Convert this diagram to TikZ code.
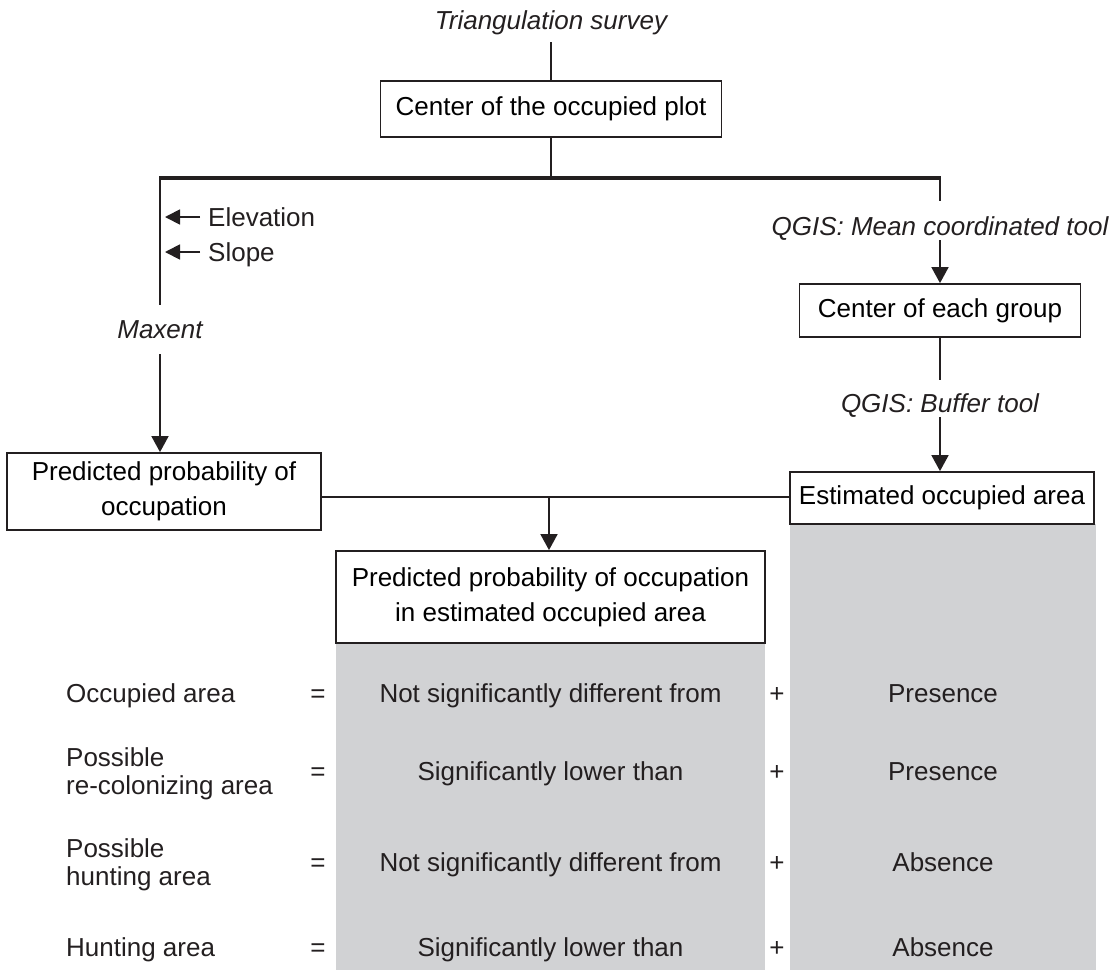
\documentclass[tikz,border=0pt]{standalone}
\usepackage{fontspec}
\setmainfont{Liberation Sans}
\usetikzlibrary{arrows.meta}
\definecolor{colgray}{RGB}{209,210,212}
\definecolor{ink}{RGB}{35,31,32}
\tikzset{
  box/.style={draw=ink, line width=1.8pt, fill=white, inner sep=0pt, align=center, font=\fontsize{26}{35}\selectfont},
  lbl/.style={font=\fontsize{26}{31}\selectfont\itshape, inner sep=0pt, text height=19pt, text depth=0pt, text=ink},
  txt/.style={font=\fontsize{26}{31}\selectfont, inner sep=0pt, text height=19pt, text depth=5.5pt, text=ink},
  txttwo/.style={font=\fontsize{26}{27.5}\selectfont, inner sep=0pt, align=left, text=ink},
  conn/.style={draw=ink, line width=1.8pt},
  thick conn/.style={draw=ink, line width=4pt},
  arr/.style={draw=ink, line width=1.8pt, -{Triangle[length=16pt,width=17pt]}},
  sarr/.style={draw=ink, line width=1.8pt, -{Triangle[length=15pt,width=15pt]}},
}
\begin{document}
\begin{tikzpicture}[x=1pt,y=-1pt]
\useasboundingbox (0,0) rectangle (1120,970);
% gray columns
\fill[colgray] (336,643) rectangle (765,970);
\fill[colgray] (790,524) rectangle (1096,970);
% boxes
\node[box, minimum width=341pt, minimum height=56pt] (cop) at (551,109) {Center of the occupied plot};
\node[box, minimum width=281pt, minimum height=53pt] (ceg) at (940,310.5) {Center of each group};
\node[box, minimum width=314pt, minimum height=77pt] (lbox) at (164,491.5) {Predicted probability of\\occupation};
\node[box, minimum width=304pt, minimum height=52pt] (rbox) at (942,498) {Estimated occupied area};
\node[box, minimum width=429pt, minimum height=92pt] (cbox) at (550.5,597) {Predicted probability of occupation\\in estimated occupied area};
% labels
\node[lbl, anchor=base] (tri) at (551,29) {Triangulation survey};
\node[lbl, anchor=base] (mx) at (160,338) {Maxent};
\node[lbl, anchor=base] (qm) at (940,235) {QGIS: Mean coordinated tool};
\node[lbl, anchor=base] (qb) at (940,412) {QGIS: Buffer tool};
\node[txt, anchor=base west] (el) at (208,226) {Elevation};
\node[txt, anchor=base west] (sl) at (208,261) {Slope};
% junctions
\coordinate (hl) at (160,178);
\coordinate (hr) at (940,178);
\coordinate (hm) at (551,178);
\coordinate (hy) at (0,497);
\coordinate (cj) at (549,497);
\coordinate (els) at (200,217);
\coordinate (elt) at (165,217);
\coordinate (sls) at (200,252);
\coordinate (slt) at (165,252);
% connectors
\draw[conn] ([yshift=-13pt]tri.south) -- (cop.north);
\draw[conn] (cop.south) -- (hm);
\draw[thick conn] ([xshift=-0.9pt]hl) -- ([xshift=0.9pt]hr);
\draw[conn] (hl) -- ([yshift=14pt]mx.north);
\draw[arr] ([yshift=-16pt]mx.south) -- (hl |- lbox.north);
\draw[sarr] (els) -- (elt);
\draw[sarr] (sls) -- (slt);
\draw[conn] (hr) -- ([yshift=15pt]qm.north);
\draw[arr] ([yshift=-5pt]qm.south) -- (ceg.north);
\draw[conn] (ceg.south) -- ([yshift=13pt]qb.north);
\draw[arr] ([yshift=-5pt]qb.south) -- (qb.south |- rbox.north);
\draw[conn] (lbox.east |- hy) -- (rbox.west |- hy);
\draw[arr] (cj) -- (cj |- cbox.north);
% table rows
\node[txt, anchor=west] (r1l) at (66,696) {Occupied area};
\node[txttwo, anchor=west] (r2l) at (66,774) {Possible\\re-colonizing area};
\node[txttwo, anchor=west] (r3l) at (66,865) {Possible\\hunting area};
\node[txt, anchor=west] (r4l) at (66,950) {Hunting area};
\foreach \yy/\nm in {696/1,774/2,865/3,950/4}{
  \node[txt] (eq\nm) at (318,\yy) {=};
  \node[txt] (pl\nm) at (777,\yy) {+};
}
\node[txt] (c1) at (550.5,696) {Not significantly different from};
\node[txt] (c2) at (550.5,774) {Significantly lower than};
\node[txt] (c3) at (550.5,865) {Not significantly different from};
\node[txt] (c4) at (550.5,950) {Significantly lower than};
\node[txt] (p1) at (943,696) {Presence};
\node[txt] (p2) at (943,774) {Presence};
\node[txt] (p3) at (943,865) {Absence};
\node[txt] (p4) at (943,950) {Absence};
\end{tikzpicture}
\end{document}
